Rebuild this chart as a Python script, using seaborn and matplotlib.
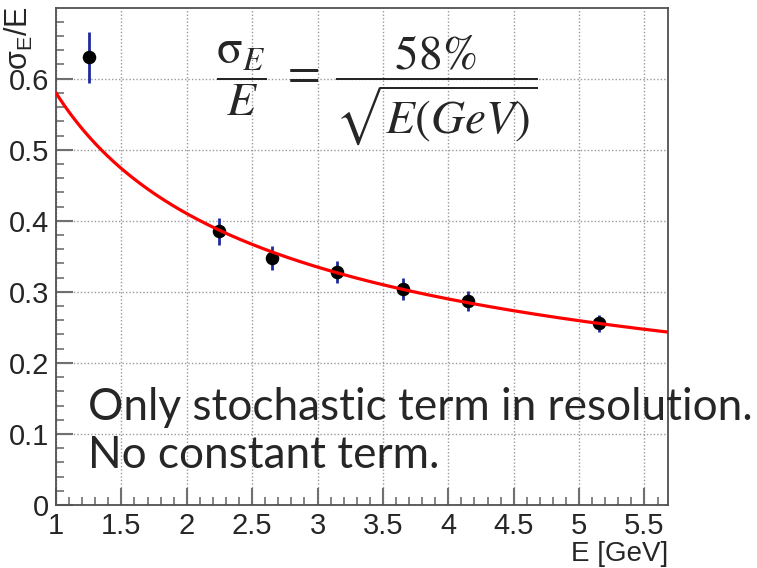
import numpy as np
import pandas as pd
import matplotlib
matplotlib.use("Agg")
import matplotlib.pyplot as plt
import seaborn as sns
from matplotlib.ticker import MultipleLocator, FuncFormatter

# Measured resolution points
energy = [1.25, 2.25, 2.65, 3.15, 3.65, 4.15, 5.15]
resolution = [0.630, 0.385, 0.348, 0.328, 0.304, 0.287, 0.256]
resolution_err = [0.036, 0.019, 0.017, 0.016, 0.015, 0.014, 0.012]
energy_err = [0.04, 0.04, 0.04, 0.04, 0.04, 0.04, 0.04]

# Stochastic-term fit: sigma/E = a / sqrt(E)
stochastic = 0.58
e_min, e_max = 1.0, 5.68

sns.set_theme(style="white")
plt.rcParams["font.family"] = ["Liberation Sans", "DejaVu Sans"]
plt.rcParams["mathtext.fontset"] = "custom"
plt.rcParams["mathtext.rm"] = "Liberation Sans"
plt.rcParams["mathtext.it"] = "Liberation Sans"

fig = plt.figure(figsize=(7.57, 5.68), dpi=100)
ax = fig.add_axes([56 / 757, 1 - 505 / 568, (668 - 56) / 757, (505 - 8) / 568])

pts = pd.DataFrame({"E": energy, "res": resolution})
fit_e = np.linspace(e_min, e_max, 300)
fit = pd.DataFrame({"E": fit_e, "res": stochastic / np.sqrt(fit_e)})

ax.errorbar(energy, resolution, yerr=resolution_err, xerr=energy_err,
            fmt="none", ecolor="#1f2a9c", elinewidth=2.0, capsize=0, zorder=3)
sns.scatterplot(data=pts, x="E", y="res", ax=ax, color="black", s=95,
                edgecolor="black", linewidth=0, zorder=4, legend=False)
sns.lineplot(data=fit, x="E", y="res", ax=ax, color="#ff0000", lw=2.3,
             zorder=5, legend=False)

ax.set_xlim(e_min, e_max)
ax.set_ylim(0, 0.6995)
ax.xaxis.set_major_locator(MultipleLocator(0.5))
ax.xaxis.set_minor_locator(MultipleLocator(0.1))
ax.yaxis.set_major_locator(MultipleLocator(0.1))
ax.yaxis.set_minor_locator(MultipleLocator(0.02))
ax.xaxis.set_major_formatter(FuncFormatter(lambda v, p: f"{v:g}"))
ax.yaxis.set_major_formatter(FuncFormatter(lambda v, p: f"{v:g}"))

ax.grid(True, which="major", color="#9a9a9a", linestyle=(0, (1, 1.5)), lw=1.0)
ax.tick_params(axis="both", which="major", direction="in", length=12, width=1.5,
               color="#707070", labelsize=21,
               top=False, right=False, bottom=True, left=True)
ax.tick_params(axis="both", which="minor", direction="in", length=6, width=1.2,
               color="#707070", top=False, right=False, bottom=True, left=True)
ax.tick_params(axis="x", which="major", pad=5)
ax.tick_params(axis="y", which="major", pad=5)
for sp in ax.spines.values():
    sp.set_color("#505050")
    sp.set_linewidth(1.3)

ax.set_xlabel("")
ax.set_ylabel("")
fig.text(668 / 757, 1 - 567 / 568, "E [GeV]", ha="right", va="bottom", fontsize=20)
fig.text(3 / 757, 1 - 6 / 568, r"$\mathrm{\sigma}_{E}$/E", rotation=90, ha="left",
         va="top", fontsize=22)

# Fit formula annotation
ax.text(0.262, 0.835,
        r"$\dfrac{\mathrm{\sigma}_{E}}{E} \;=\; \dfrac{\mathrm{58\%}}{\sqrt{E(GeV)}}$",
        transform=ax.transAxes, fontsize=34, ha="left", va="center",
        math_fontfamily="stix", zorder=6)

note_font = ["Lato", "DejaVu Sans"]
fig.text(88 / 757, 1 - 420 / 568, "Only stochastic term in resolution.",
         fontsize=31.8, family=note_font, ha="left", va="baseline")
fig.text(88 / 757, 1 - 468 / 568, "No constant term.",
         fontsize=31.8, family=note_font, ha="left", va="baseline")

fig.savefig("out.png", dpi=100)
